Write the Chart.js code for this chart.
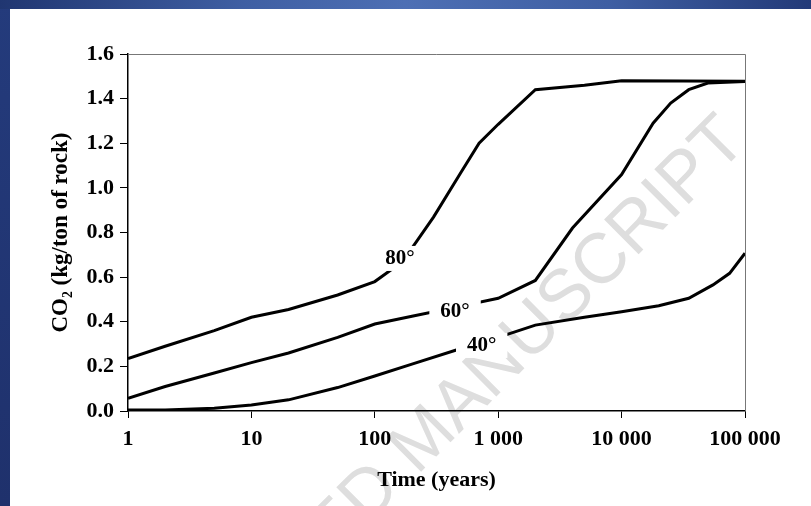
<!DOCTYPE html>
<html>
<head>
<meta charset="utf-8">
<script src="https://cdn.jsdelivr.net/npm/chart.js@4"></script>
<style>
  html, body { margin: 0; padding: 0; }
  body {
    width: 811px; height: 506px; overflow: hidden; position: relative;
    background: linear-gradient(to bottom, #243b7c, #1f316c);
  }
  #topbar {
    position: absolute; left: 0; top: 0; width: 811px; height: 9px;
    background: linear-gradient(to right, #203671, #3f5fa3 30%, #4d6fb4 50%, #3f5fa3 75%, #233a78);
  }
  #panel { position: absolute; left: 10px; top: 9px; width: 801px; height: 497px; background: #fff; }
</style>
</head>
<body>
<div id="topbar"></div>
<div id="panel"><canvas id="myChart" width="801" height="497"></canvas></div>
<script>
// time axis (years) and CO2 (kg/ton of rock)
const years80 = [1, 2, 5, 10, 20, 50, 100, 150, 200, 300, 500, 700, 1000, 2000, 5000, 10000, 100000];
const co2_80 = [0.235, 0.29, 0.36, 0.42, 0.455, 0.52, 0.58, 0.65, 0.73, 0.87, 1.07, 1.2, 1.285, 1.44, 1.46, 1.48, 1.478];

const years60 = [1, 2, 5, 10, 20, 50, 100, 200, 500, 1000, 2000, 4000, 10000, 18000, 25000, 35000, 50000, 100000];
const co2_60 = [0.057, 0.11, 0.17, 0.217, 0.26, 0.33, 0.39, 0.425, 0.47, 0.505, 0.585, 0.82, 1.06, 1.29, 1.38, 1.44, 1.47, 1.477];

const years40 = [1, 2, 5, 10, 20, 50, 100, 200, 500, 1000, 2000, 5000, 10000, 20000, 35000, 55000, 75000, 100000];
const co2_40 = [0.005, 0.005, 0.012, 0.027, 0.05, 0.105, 0.157, 0.21, 0.28, 0.33, 0.385, 0.42, 0.445, 0.472, 0.505, 0.565, 0.617, 0.707];

const xTicks = [1, 10, 100, 1000, 10000, 100000];
const xTickLabels = ["1", "10", "100", "1 000", "10 000", "100 000"];
const yTicks = [0, 0.2, 0.4, 0.6, 0.8, 1.0, 1.2, 1.4, 1.6];
const yTickLabels = ["0.0", "0.2", "0.4", "0.6", "0.8", "1.0", "1.2", "1.4", "1.6"];

// curve labels (angle) and where they sit, in data units
const curveNames = ["80°", "60°", "40°"];
const curveLabelX = [160, 447, 735];
const curveLabelY = [0.686, 0.448, 0.296];
const curveLabelPad = [5, 11, 11];

function pts(xs, ys) {
  return xs.map((x, i) => ({ x: x, y: ys[i] }));
}

const serif = "'Liberation Serif', 'Times New Roman', serif";

const frameAndLabels = {
  id: "frameAndLabels",
  beforeDraw(chart) {
    // faint watermark
    const ctx = chart.ctx;
    ctx.save();
    ctx.translate(559, 287);
    ctx.rotate(-45 * Math.PI / 180);
    ctx.font = "71px 'Liberation Sans', Arial, sans-serif";
    ctx.fillStyle = "#dedede";
    ctx.textBaseline = "middle";
    ctx.textAlign = "center";
    ctx.fillText("MANUSCRIPT", 0, 0);
    const w = ctx.measureText("MANUSCRIPT").width;
    ctx.textAlign = "right";
    ctx.fillText("ACCEPTED ", -w / 2, 0);
    ctx.restore();
  },
  afterDatasetsDraw(chart) {
    const ctx = chart.ctx;
    const a = chart.chartArea;
    const xs = chart.scales.x, ys = chart.scales.y;
    ctx.save();
    // top and right frame
    ctx.strokeStyle = "#777";
    ctx.lineWidth = 1;
    ctx.beginPath();
    ctx.moveTo(a.left, a.top + 0.5);
    ctx.lineTo(a.right + 0.5, a.top + 0.5);
    ctx.lineTo(a.right + 0.5, a.bottom);
    ctx.stroke();
    // curve labels with white backing
    ctx.font = "bold 21px " + serif;
    ctx.textAlign = "center";
    ctx.textBaseline = "middle";
    curveNames.forEach((name, i) => {
      const px = xs.getPixelForValue(curveLabelX[i]);
      const py = ys.getPixelForValue(curveLabelY[i]);
      const w = ctx.measureText(name).width + 2 * curveLabelPad[i];
      ctx.fillStyle = "#fff";
      ctx.fillRect(px - w / 2, py - 12, w, 25);
      ctx.fillStyle = "#000";
      ctx.fillText(name, px, py + 1);
    });
    ctx.restore();
  }
};

const ctx = document.getElementById("myChart");
new Chart(ctx, {
  type: "line",
  data: {
    datasets: [
      { label: "80°", data: pts(years80, co2_80) },
      { label: "60°", data: pts(years60, co2_60) },
      { label: "40°", data: pts(years40, co2_40) }
    ]
  },
  options: {
    responsive: false,
    animation: false,
    layout: { padding: { top: 45, right: 66, left: 0, bottom: 0 } },
    elements: {
      line: { borderColor: "#000", borderWidth: 3, tension: 0, fill: false },
      point: { radius: 0 }
    },
    plugins: { legend: { display: false }, tooltip: { enabled: false } },
    scales: {
      x: {
        type: "logarithmic",
        min: 1,
        max: 100000,
        afterBuildTicks: (s) => { s.ticks = xTicks.map(v => ({ value: v })); },
        afterFit: (s) => { s.height = 95; },
        grid: { drawOnChartArea: false, drawTicks: true, tickLength: 7, tickColor: "#000", tickWidth: 1 },
        border: { color: "#000", width: 1.5 },
        ticks: {
          color: "#000",
          padding: 8,
          maxRotation: 0,
          autoSkip: false,
          font: { family: serif, size: 22, weight: "bold" },
          callback: (v, i) => xTickLabels[i]
        },
        title: {
          display: true,
          text: "Time (years)",
          color: "#000",
          font: { family: serif, size: 22, weight: "bold" },
          padding: { top: 0, bottom: 12 }
        }
      },
      y: {
        min: 0,
        max: 1.6,
        afterBuildTicks: (s) => { s.ticks = yTicks.map(v => ({ value: v })); },
        afterFit: (s) => { s.width = 118; },
        grid: { drawOnChartArea: false, drawTicks: true, tickLength: 8, tickColor: "#000", tickWidth: 1 },
        border: { color: "#000", width: 1.5 },
        ticks: {
          color: "#000",
          padding: 6,
          autoSkip: false,
          font: { family: serif, size: 22, weight: "bold" },
          callback: (v, i) => yTickLabels[i]
        },
        title: {
          display: true,
          text: "CO₂ (kg/ton of rock)",
          color: "#000",
          font: { family: serif, size: 23, weight: "bold" },
          padding: { top: 37, bottom: 0 }
        }
      }
    }
  },
  plugins: [frameAndLabels]
});
</script>
</body>
</html>
